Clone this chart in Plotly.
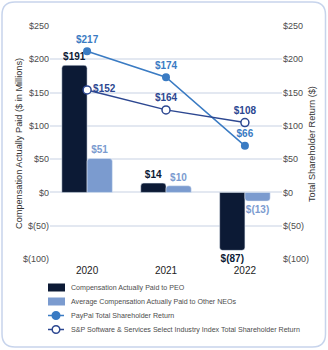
import plotly.graph_objects as go

# ---------------- data ----------------
years = ["2020", "2021", "2022"]
peo_cap = [191, 14, -87]
neo_cap = [51, 10, -13]
peo_labels = ["$191", "$14", "$(87)"]
neo_labels = ["$51", "$10", "$(13)"]
paypal_tsr = [212, 173, 70]
sp_tsr = [154, 124, 105]
paypal_labels = ["$217", "$174", "$66"]
sp_labels = ["$152", "$164", "$108"]
tick_vals = [-100, -50, 0, 50, 100, 150, 200, 250]
tick_text = ["$(100)", "$(50)", "$0", "$50", "$100", "$150", "$200", "$250"]
legend_names = [
    "Compensation Actually Paid to PEO",
    "Average Compensation Actually Paid to Other NEOs",
    "PayPal Total Shareholder Return",
    "S&P Software & Services Select Industry Index Total Shareholder Return",
]

# ---------------- style ----------------
FONT = "Liberation Sans, Arial, sans-serif"
C_PEO = "#0c1a35"
C_NEO = "#7b9bcf"
C_PP = "#3a7bc3"
C_SP = "#2c4791"
C_GRID = "#e3e8f1"
C_TXT = "#4d4d4d"

W, H = 328, 350
L, R, T, B = 50, 282, 26, 259


def px(x):
    return (x - L) / (R - L)


def py(y):
    return (B - y) / (B - T)


fig = go.Figure()

fig.add_trace(go.Bar(
    x=years, y=peo_cap, name=legend_names[0], marker=dict(color=C_PEO, cornerradius=3),
    text=peo_labels, textposition="outside", cliponaxis=False, constraintext="none",
    textfont=dict(family=FONT, size=10, color=C_PEO, weight="bold"), showlegend=False,
))
fig.add_trace(go.Bar(
    x=years, y=neo_cap, name=legend_names[1], marker=dict(color=C_NEO, cornerradius=3),
    text=neo_labels, textposition="outside", cliponaxis=False, constraintext="none",
    textfont=dict(family=FONT, size=10, color=C_NEO, weight="bold"), showlegend=False,
))
fig.add_trace(go.Scatter(
    x=years, y=paypal_tsr, yaxis="y2", mode="lines+markers+text", name=legend_names[2],
    line=dict(color=C_PP, width=1.5), marker=dict(size=8, color=C_PP),
    text=paypal_labels, textposition="top center", cliponaxis=False,
    textfont=dict(family=FONT, size=10, color=C_PP, weight="bold"), showlegend=False,
))
fig.add_trace(go.Scatter(
    x=years, y=sp_tsr, yaxis="y2", mode="lines+markers+text", name=legend_names[3],
    line=dict(color=C_SP, width=1.5),
    marker=dict(size=8, color="white", line=dict(color=C_SP, width=1.5)),
    text=sp_labels, textposition=["middle right", "top center", "top center"], cliponaxis=False,
    textfont=dict(family=FONT, size=10, color=C_SP, weight="bold"), showlegend=False,
))

axis_common = dict(range=[-100, 250], tickvals=tick_vals, ticktext=tick_text,
                   tickfont=dict(family=FONT, size=9, color=C_TXT), zeroline=False,
                   showline=False, ticks="")

shapes = []
annotations = []

# rounded border
x0, y0, x1, y1, r = 2, 2, 325.5, 347, 13
path = (f"M {px(x0 + r)},{py(y0)} L {px(x1 - r)},{py(y0)} Q {px(x1)},{py(y0)} {px(x1)},{py(y0 + r)} "
        f"L {px(x1)},{py(y1 - r)} Q {px(x1)},{py(y1)} {px(x1 - r)},{py(y1)} "
        f"L {px(x0 + r)},{py(y1)} Q {px(x0)},{py(y1)} {px(x0)},{py(y1 - r)} "
        f"L {px(x0)},{py(y0 + r)} Q {px(x0)},{py(y0)} {px(x0 + r)},{py(y0)} Z")
shapes.append(dict(type="path", xref="paper", yref="paper", path=path,
                   line=dict(color="#c7d4ec", width=1.5), layer="below"))

# custom legend
rows = [287.5, 301.5, 315.5, 329.5]
for i, yc in enumerate(rows):
    if i < 2:
        shapes.append(dict(type="rect", xref="paper", yref="paper",
                           x0=px(48), x1=px(65), y0=py(yc + 4), y1=py(yc - 4),
                           fillcolor=[C_PEO, C_NEO][i], line=dict(width=0)))
    else:
        col = [C_PP, C_SP][i - 2]
        shapes.append(dict(type="line", xref="paper", yref="paper",
                           x0=px(48), x1=px(64), y0=py(yc), y1=py(yc),
                           line=dict(color=col, width=1.5)))
        shapes.append(dict(type="circle", xref="paper", yref="paper",
                           x0=px(52.2), x1=px(59.8), y0=py(yc + 3.8), y1=py(yc - 3.8),
                           fillcolor=col if i == 2 else "white", line=dict(color=col, width=1.5)))
    annotations.append(dict(xref="paper", yref="paper", x=px(69), y=py(yc), xanchor="left",
                            yanchor="middle", text=legend_names[i].replace("&", "&amp;"),
                            showarrow=False, font=dict(family=FONT, size=7.1, color=C_TXT)))

# axis titles
annotations.append(dict(xref="paper", yref="paper", x=px(19), y=py(144), textangle=-90,
                        text="Compensation Actually Paid ($ in Millions)", showarrow=False,
                        xanchor="center", yanchor="middle",
                        font=dict(family=FONT, size=9.2, color="#333333")))
annotations.append(dict(xref="paper", yref="paper", x=px(312), y=py(144), textangle=-90,
                        text="Total Shareholder Return ($)", showarrow=False,
                        xanchor="center", yanchor="middle",
                        font=dict(family=FONT, size=9.2, color="#333333")))

fig.update_layout(
    width=W, height=H, autosize=False,
    margin=dict(l=L, r=W - R, t=T, b=H - B, pad=0),
    paper_bgcolor="white", plot_bgcolor="white",
    barmode="group", bargap=0.36, bargroupgap=0,
    showlegend=False,
    font=dict(family=FONT),
    xaxis=dict(type="category", range=[-0.47, 2.47], showgrid=False, zeroline=False,
               tickfont=dict(family=FONT, size=10, color="#222222"), ticks="", ticklabelstandoff=4),
    yaxis=dict(**axis_common, showgrid=True, gridcolor=C_GRID, gridwidth=1.5, side="left"),
    yaxis2=dict(**axis_common, overlaying="y", side="right", showgrid=False),
    shapes=shapes,
    annotations=annotations,
)

fig.write_html("out.html")
